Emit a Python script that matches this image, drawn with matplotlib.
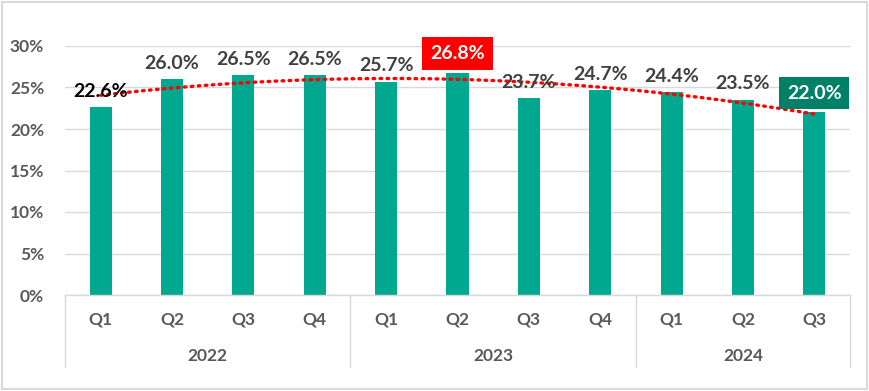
import numpy as np
import matplotlib
matplotlib.use("Agg")
import matplotlib.pyplot as plt

plt.rcParams['font.family'] = ['Lato', 'DejaVu Sans']

quarters = ['Q1', 'Q2', 'Q3', 'Q4', 'Q1', 'Q2', 'Q3', 'Q4', 'Q1', 'Q2', 'Q3']
years = ['2022', '2023', '2024']
year_sizes = [4, 4, 3]
values = [22.6, 26.0, 26.5, 26.5, 25.7, 26.8, 23.7, 24.7, 24.4, 23.5, 22.0]

bar_color = '#00A88F'
grid_color = '#D9D9D9'
text_gray = '#595959'
label_gray = '#404040'

fig = plt.figure(figsize=(8.7, 3.91), dpi=100)
ax = fig.add_axes([65 / 870, (391 - 295) / 391, 785 / 870, 249 / 391])

x = np.arange(len(values))
ax.bar(x, values, width=0.31, color=bar_color, zorder=2)

# excel-style polynomial (order 2) trendline
coef = np.polyfit(x, values, 2)
xs = np.linspace(0, len(values) - 1, 200)
ax.plot(xs, np.polyval(coef, xs), color='#FF0000', lw=2.4, ls=(0, (0.5, 1.6)),
        dash_capstyle='round', zorder=3)

ax.set_xlim(-0.5, len(values) - 0.5)
ax.set_ylim(0, 30)
ax.set_yticks(range(0, 31, 5))
ax.set_yticklabels([f'{v}%' for v in range(0, 31, 5)])
ax.tick_params(axis='y', length=0, pad=15, labelsize=12.5, labelcolor=text_gray)
for lb in ax.get_yticklabels():
    lb.set_fontweight('bold')
ax.set_xticks([])
ax.grid(axis='y', color=grid_color, lw=1, zorder=0)
for s in ['top', 'right', 'left']:
    ax.spines[s].set_visible(False)
ax.spines['bottom'].set_color(grid_color)
ax.spines['bottom'].set_linewidth(1)

# data labels
fs = 14
for i, v in enumerate(values):
    if i == 5:
        ax.text(i, v + 1.3, f'{v:.1f}%', ha='center', va='bottom', fontsize=fs,
                fontweight='bold', color='white',
                bbox=dict(boxstyle='square,pad=0.4', fc='#FF0000', ec='none'), zorder=5)
    elif i == len(values) - 1:
        ax.text(i, v + 1.3, f'{v:.1f}%', ha='center', va='bottom', fontsize=fs,
                fontweight='bold', color='white',
                bbox=dict(boxstyle='square,pad=0.4', fc='#008066', ec='none'), zorder=5)
    else:
        c = 'black' if i == 0 else label_gray
        ax.text(i, v + 0.9, f'{v:.1f}%', ha='center', va='bottom', fontsize=fs,
                fontweight='bold', color=c, zorder=5)

# two-level category axis
trans = ax.get_xaxis_transform()
for i, q in enumerate(quarters):
    ax.text(i, -0.1, q, transform=trans, ha='center', va='center', fontsize=12.5,
            fontweight='bold', color=text_gray)
start = 0
bounds = [-0.5]
for y, n in zip(years, year_sizes):
    ax.text(start + (n - 1) / 2, -0.245, y, transform=trans, ha='center', va='center',
            fontsize=12.5, fontweight='bold', color=text_gray)
    start += n
    bounds.append(start - 0.5)
for b in bounds:
    ax.plot([b, b], [0, -0.29], transform=trans, color=grid_color, lw=1, clip_on=False)

# outer chart border
fig.add_artist(plt.Rectangle((0.002, 0.004), 0.995, 0.992, transform=fig.transFigure,
                             fill=False, ec=grid_color, lw=1.5))

fig.savefig('out.png', dpi=100)
